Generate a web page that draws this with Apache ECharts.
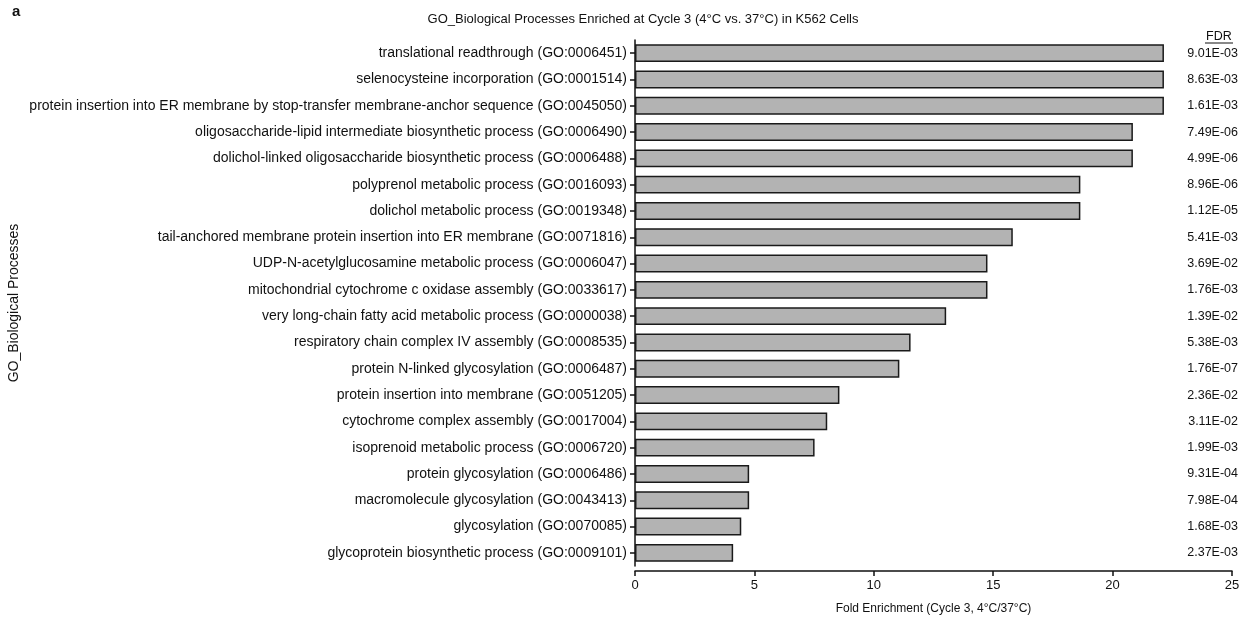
<!DOCTYPE html>
<html>
<head>
<meta charset="utf-8">
<script src="https://cdn.jsdelivr.net/npm/echarts@6/dist/echarts.min.js"></script>
<style>
html,body{margin:0;padding:0;background:#fff;}
#chart{width:1260px;height:621px;}
</style>
</head>
<body>
<div id="chart"></div>
<script>
const categories = [
  "translational readthrough (GO:0006451)",
  "selenocysteine incorporation (GO:0001514)",
  "protein insertion into ER membrane by stop-transfer membrane-anchor sequence (GO:0045050)",
  "oligosaccharide-lipid intermediate biosynthetic process (GO:0006490)",
  "dolichol-linked oligosaccharide biosynthetic process (GO:0006488)",
  "polyprenol metabolic process (GO:0016093)",
  "dolichol metabolic process (GO:0019348)",
  "tail-anchored membrane protein insertion into ER membrane (GO:0071816)",
  "UDP-N-acetylglucosamine metabolic process (GO:0006047)",
  "mitochondrial cytochrome c oxidase assembly (GO:0033617)",
  "very long-chain fatty acid metabolic process (GO:0000038)",
  "respiratory chain complex IV assembly (GO:0008535)",
  "protein N-linked glycosylation (GO:0006487)",
  "protein insertion into membrane (GO:0051205)",
  "cytochrome complex assembly (GO:0017004)",
  "isoprenoid metabolic process (GO:0006720)",
  "protein glycosylation (GO:0006486)",
  "macromolecule glycosylation (GO:0043413)",
  "glycosylation (GO:0070085)",
  "glycoprotein biosynthetic process (GO:0009101)"
];
const foldEnrichment = [22.15, 22.15, 22.15, 20.85, 20.85, 18.65, 18.65, 15.82, 14.76, 14.76, 13.03, 11.54, 11.07, 8.56, 8.05, 7.52, 4.78, 4.78, 4.45, 4.11];
const fdr = ["9.01E-03","8.63E-03","1.61E-03","7.49E-06","4.99E-06","8.96E-06","1.12E-05","5.41E-03","3.69E-02","1.76E-03","1.39E-02","5.38E-03","1.76E-07","2.36E-02","3.11E-02","1.99E-03","9.31E-04","7.98E-04","1.68E-03","2.37E-03"];
const xTicks = [0, 5, 10, 15, 20, 25];

const FONT = "Liberation Sans, Arial, Helvetica, sans-serif";
const chart = echarts.init(document.getElementById('chart'));
chart.setOption({
  backgroundColor: '#fff',
  animation: false,
  title: {
    text: "GO_Biological Processes Enriched at Cycle 3 (4°C vs. 37°C) in K562 Cells",
    left: 638, top: 8, textAlign: 'center',
    textStyle: {fontFamily: FONT, fontSize: 13, fontWeight: 'normal', color: '#111'}
  },
  grid: {left: 635, right: 28, top: 40, bottom: 55, containLabel: false},
  xAxis: {
    type: 'value', min: xTicks[0], max: xTicks[xTicks.length-1], interval: 5,
    offset: 5,
    axisLine: {show: true, lineStyle: {color: '#111', width: 1.5}},
    axisTick: {show: true, length: 5, lineStyle: {color: '#111', width: 1.5}},
    axisLabel: {fontFamily: FONT, fontSize: 13, color: '#111', margin: 8},
    splitLine: {show: false},
    name: "Fold Enrichment (Cycle 3, 4°C/37°C)",
    nameLocation: 'middle', nameGap: 32,
    nameTextStyle: {fontFamily: FONT, fontSize: 12, color: '#111'}
  },
  yAxis: [{
    type: 'category', data: categories, inverse: true,
    axisLine: {show: true, lineStyle: {color: '#111', width: 1.5}},
    axisTick: {show: true, length: 5, alignWithLabel: true, lineStyle: {color: '#111', width: 1.5}},
    axisLabel: {fontFamily: FONT, fontSize: 14, color: '#111', margin: 8},
    name: "GO_Biological Processes",
    nameLocation: 'middle', nameRotate: 90, nameGap: 614,
    nameTextStyle: {fontFamily: FONT, fontSize: 14, color: '#111'}
  }, {
    type: 'category', data: fdr, inverse: true, position: 'right',
    axisLine: {show: false}, axisTick: {show: false},
    axisLabel: {fontFamily: FONT, fontSize: 12.5, color: '#111', margin: 6, align: 'right'}
  }],
  graphic: [
    {type: 'text', left: 12, top: 4, style: {text: 'a', font: 'bold 15px ' + FONT, fill: '#111'}},
    {type: 'text', left: 1206, top: 30, style: {text: 'FDR', font: '12.5px ' + FONT, fill: '#111'}},
    {type: 'line', shape: {x1: 1205, y1: 43, x2: 1233, y2: 43}, style: {stroke: '#111', lineWidth: 1}}
  ],
  series: [{
    type: 'bar', data: foldEnrichment, yAxisIndex: 0,
    barCategoryGap: '32%',
    itemStyle: {color: '#b3b3b3', borderColor: '#1a1a1a', borderWidth: 1.5}
  }]
});
</script>
</body>
</html>
